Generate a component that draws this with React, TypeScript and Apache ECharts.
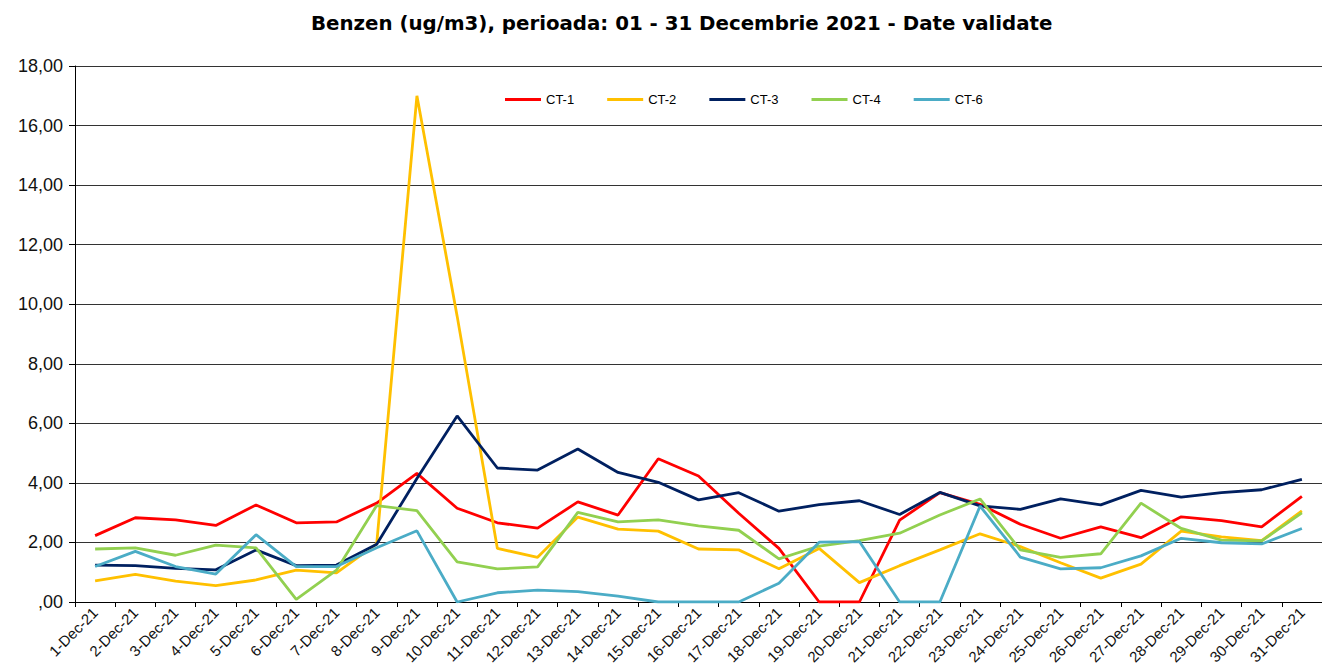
import React, { useEffect, useRef } from "react";
import * as echarts from "echarts";

const days: string[] = Array.from({ length: 31 }, (_, i) => `${i + 1}-Dec-21`);

const seriesNames = ["CT-1", "CT-2", "CT-3", "CT-4", "CT-6"];
const seriesColors = ["#FF0000", "#FFC000", "#002060", "#92D050", "#4BACC6"];

const ct1 = [2.23, 2.83, 2.76, 2.57, 3.26, 2.66, 2.69, 3.32, 4.32, 3.15, 2.66, 2.48, 3.36, 2.92, 4.81, 4.23, 2.98, 1.8, 0, 0, 2.75, 3.67, 3.28, 2.61, 2.14, 2.52, 2.16, 2.86, 2.73, 2.52, 3.55];
const ct2 = [0.71, 0.93, 0.7, 0.55, 0.74, 1.07, 0.98, 1.95, 17.0, 9.6, 1.8, 1.5, 2.85, 2.45, 2.38, 1.78, 1.75, 1.12, 1.8, 0.65, 1.22, 1.75, 2.29, 1.86, 1.32, 0.8, 1.27, 2.38, 2.19, 2.06, 3.06];
const ct3 = [1.24, 1.22, 1.13, 1.08, 1.75, 1.22, 1.24, 1.94, 4.15, 6.25, 4.5, 4.43, 5.14, 4.35, 4.02, 3.43, 3.67, 3.05, 3.27, 3.4, 2.94, 3.68, 3.23, 3.11, 3.46, 3.26, 3.75, 3.52, 3.67, 3.77, 4.12];
const ct4 = [1.78, 1.82, 1.57, 1.91, 1.82, 0.09, 1.07, 3.24, 3.07, 1.35, 1.11, 1.18, 3.01, 2.69, 2.76, 2.56, 2.41, 1.45, 1.88, 2.06, 2.31, 2.92, 3.46, 1.75, 1.5, 1.62, 3.32, 2.47, 2.08, 2.05, 2.99];
const ct6 = [1.19, 1.7, 1.19, 0.94, 2.26, 1.19, 1.19, 1.82, 2.39, 0, 0.31, 0.4, 0.35, 0.2, 0, 0, 0, 0.63, 2.01, 2.03, 0, 0, 3.22, 1.51, 1.11, 1.15, 1.55, 2.14, 1.99, 1.95, 2.47];

const seriesData = [ct1, ct2, ct3, ct4, ct6];

const yMin = 0;
const yMax = 18;
const yInterval = 2;

export default function App() {
  const ref = useRef<HTMLDivElement>(null);

  useEffect(() => {
    if (!ref.current) return;
    const chart = echarts.init(ref.current, undefined, { renderer: "svg" });
    chart.setOption({
      animation: false,
      backgroundColor: "#ffffff",
      title: {
        text: "Benzen (ug/m3), perioada: 01 - 31 Decembrie 2021 - Date validate",
        left: 306,
        top: 8,
        textStyle: {
          fontFamily: "DejaVu Sans",
          fontWeight: "bold",
          fontSize: 19.8,
          color: "#000",
        },
      },
      legend: {
        left: 500,
        top: 88,
        icon: "rect",
        itemWidth: 36,
        itemHeight: 3,
        itemGap: 33,
        textStyle: {
          fontFamily: "Liberation Sans",
          fontSize: 13,
          color: "#000",
        },
        data: seriesNames,
      },
      grid: {
        left: 75,
        top: 66,
        width: 1252,
        height: 536,
        containLabel: false,
      },
      xAxis: {
        type: "category",
        data: days,
        boundaryGap: true,
        axisLine: { lineStyle: { color: "#000", width: 1 } },
        axisTick: { show: true, length: 5, lineStyle: { color: "#000" } },
        axisLabel: {
          rotate: 45,
          interval: 0,
          fontFamily: "Liberation Sans",
          fontSize: 15,
          color: "#111",
          margin: 8,
        },
      },
      yAxis: {
        type: "value",
        min: yMin,
        max: yMax,
        interval: yInterval,
        axisLine: { show: true, lineStyle: { color: "#000", width: 1 } },
        axisTick: { show: true, length: 6, lineStyle: { color: "#000" } },
        splitLine: { lineStyle: { color: "#333", width: 1 } },
        axisLabel: {
          fontFamily: "Liberation Sans",
          fontSize: 18,
          color: "#111",
          margin: 12,
          formatter: (v: number) => {
            const s = v.toFixed(2).replace(".", ",");
            return s.startsWith("0,") ? s.slice(1) : s;
          },
        },
      },
      series: seriesNames.map((name, i) => ({
        name,
        type: "line",
        data: seriesData[i],
        symbol: "none",
        showSymbol: false,
        lineStyle: { color: seriesColors[i], width: 2.8 },
        itemStyle: { color: seriesColors[i] },
      })),
    });
    return () => chart.dispose();
  }, []);

  return (
    <div
      ref={ref}
      style={{ position: "fixed", left: 0, top: 0, width: 1322, height: 670 }}
    />
  );
}
